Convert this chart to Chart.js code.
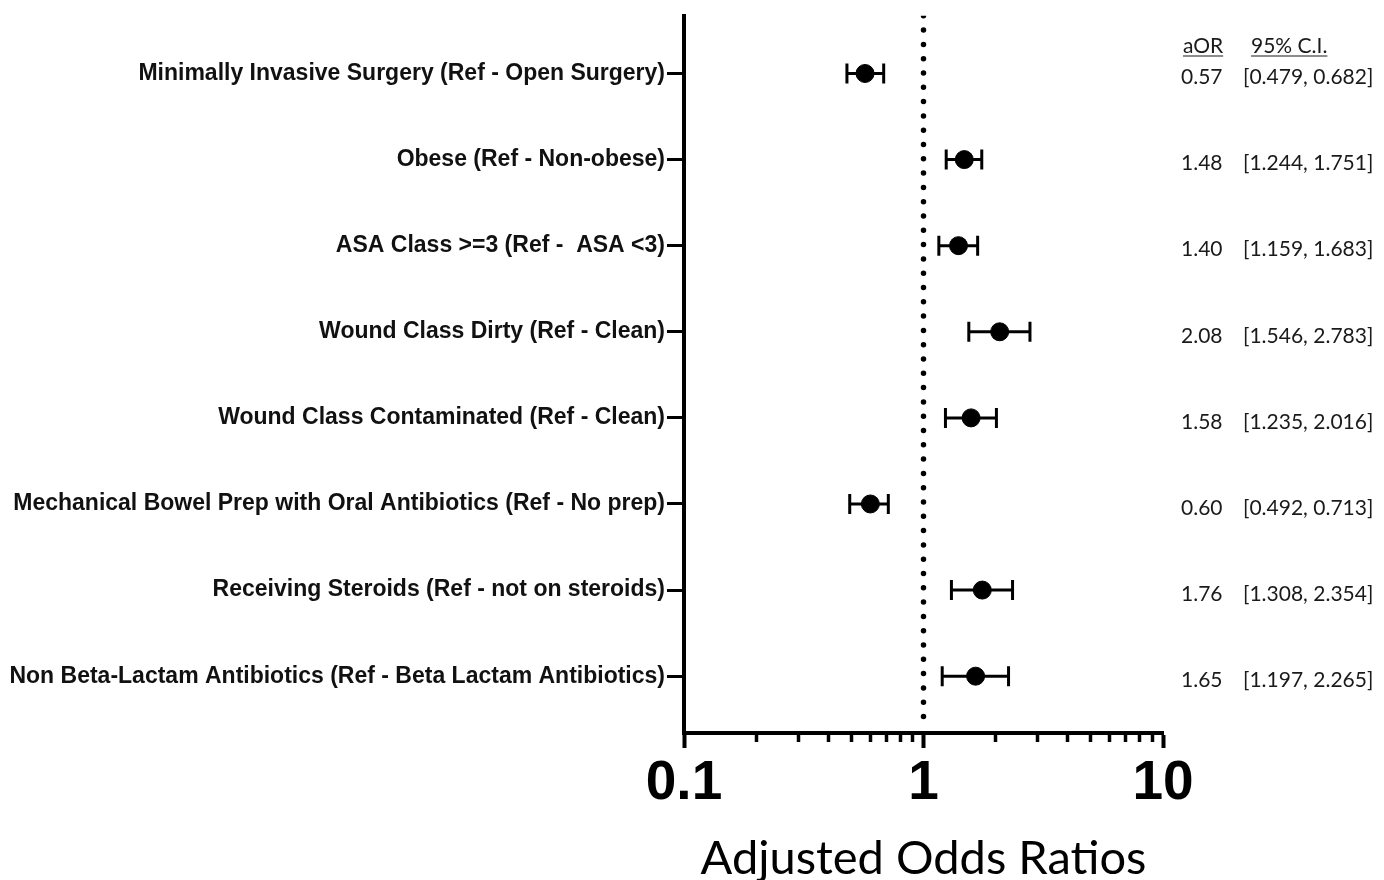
<!DOCTYPE html>
<html>
<head>
<meta charset="utf-8">
<script src="https://cdn.jsdelivr.net/npm/chart.js@4"></script>
<style>
  html, body { margin: 0; padding: 0; background: #fff; }
  #wrap { width: 1384px; height: 880px; }
</style>
</head>
<body>
<div id="wrap"><canvas id="forest"></canvas></div>
<script>
const labels = [
    'Minimally Invasive Surgery (Ref - Open Surgery)',
    'Obese (Ref - Non-obese)',
    'ASA Class >=3 (Ref -  ASA <3)',
    'Wound Class Dirty (Ref - Clean)',
    'Wound Class Contaminated (Ref - Clean)',
    'Mechanical Bowel Prep with Oral Antibiotics (Ref - No prep)',
    'Receiving Steroids (Ref - not on steroids)',
    'Non Beta-Lactam Antibiotics (Ref - Beta Lactam Antibiotics)'
];
const aor = [0.57, 1.48, 1.40, 2.08, 1.58, 0.60, 1.76, 1.65];
const ciLow = [0.479, 1.244, 1.159, 1.546, 1.235, 0.492, 1.308, 1.197];
const ciHigh = [0.682, 1.751, 1.683, 2.783, 2.016, 0.713, 2.354, 2.265];
const majorTicks = [0.1, 1, 10];
const minorTicks = [0.2, 0.3, 0.4, 0.5, 0.6, 0.7, 0.8, 0.9, 2, 3, 4, 5, 6, 7, 8, 9];

const Y_MIN = 0.33;
const Y_MAX = 8.66;

// error bars: one line dataset per row, caps drawn as rotated 'line' points
const ciSets = labels.map((_, i) => ({
    type: 'line',
    data: [{ x: ciLow[i], y: i + 1 }, { x: ciHigh[i], y: i + 1 }],
    borderColor: '#000',
    borderWidth: 3,
    pointStyle: 'line',
    rotation: 90,
    pointRadius: 10,
    pointBorderWidth: 3,
    pointBorderColor: '#000',
    order: 2
}));

// right-hand table of aOR and confidence intervals
const tablePlugin = {
    id: 'aorTable',
    afterDraw(chart) {
        const ctx = chart.ctx;
        const y = chart.scales.y;
        ctx.save();
        ctx.fillStyle = '#1a1a1a';
        ctx.strokeStyle = '#1a1a1a';
        ctx.font = '21px Lato';
        ctx.textBaseline = 'middle';
        ctx.textAlign = 'left';

        const headers = [['aOR', 1183], ['95% C.I.', 1251]];
        headers.forEach(([txt, x]) => {
            ctx.fillText(txt, x, 46);
            const w = ctx.measureText(txt).width;
            ctx.lineWidth = 1.2;
            ctx.beginPath();
            ctx.moveTo(x, 56);
            ctx.lineTo(x + w, 56);
            ctx.stroke();
        });

        labels.forEach((_, i) => {
            const py = y.getPixelForValue(i + 1) + 4;
            ctx.fillText(aor[i].toFixed(2), 1181, py);
            ctx.fillText('[' + ciLow[i].toFixed(3) + ', ' + ciHigh[i].toFixed(3) + ']', 1243, py);
        });
        ctx.restore();
    }
};

new Chart(document.getElementById('forest'), {
    type: 'scatter',
    data: {
        datasets: [
            {
                type: 'line',
                data: [{ x: 1, y: Y_MIN }, { x: 1, y: 8.52 }],
                borderColor: '#000',
                borderWidth: 5.5,
                borderDash: [0, 14.3],
                borderCapStyle: 'round',
                pointRadius: 0,
                order: 3
            },
            ...ciSets,
            {
                data: aor.map((v, i) => ({ x: v, y: i + 1 })),
                backgroundColor: '#000',
                borderColor: '#000',
                pointRadius: 9,
                pointHoverRadius: 9,
                order: 1
            }
        ]
    },
    options: {
        responsive: true,
        maintainAspectRatio: false,
        animation: false,
        layout: { padding: { top: 12, right: 221, left: 0, bottom: 0 } },
        plugins: {
            legend: { display: false },
            tooltip: { enabled: false }
        },
        scales: {
            x: {
                type: 'logarithmic',
                min: 0.1,
                max: 10,
                afterBuildTicks: axis => { axis.ticks = majorTicks.map(v => ({ value: v })); },
                afterFit: scale => { scale.height = 147; },
                grid: { drawOnChartArea: false, tickLength: 15, tickWidth: 4, tickColor: '#000' },
                border: { color: '#000', width: 4 },
                ticks: {
                    color: '#000',
                    padding: 3,
                    maxRotation: 0,
                    font: { family: 'Liberation Sans', weight: 'bold', size: 55 },
                    callback: v => String(v)
                },
                title: {
                    display: true,
                    text: 'Adjusted Odds Ratios',
                    color: '#000',
                    font: { family: 'Lato', size: 47, lineHeight: 0.8 },
                    padding: { top: 4, bottom: 2 }
                }
            },
            x2: {
                type: 'logarithmic',
                min: 0.1,
                max: 10,
                position: { y: Y_MAX },
                afterBuildTicks: axis => { axis.ticks = minorTicks.map(v => ({ value: v })); },
                grid: { drawOnChartArea: false, tickLength: 9, tickWidth: 3.5, tickColor: '#000' },
                border: { display: false },
                ticks: { display: false }
            },
            y: {
                type: 'linear',
                reverse: true,
                min: Y_MIN,
                max: Y_MAX,
                afterBuildTicks: axis => { axis.ticks = labels.map((_, i) => ({ value: i + 1 })); },
                afterFit: scale => { scale.width = 684; },
                grid: { drawOnChartArea: false, tickLength: 17, tickWidth: 3, tickColor: '#000' },
                border: { color: '#000', width: 4 },
                ticks: {
                    color: '#111',
                    padding: 2,
                    font: { family: 'Liberation Sans', weight: 'bold', size: 23 },
                    callback: v => labels[v - 1]
                }
            }
        }
    },
    plugins: [tablePlugin]
});
</script>
</body>
</html>
